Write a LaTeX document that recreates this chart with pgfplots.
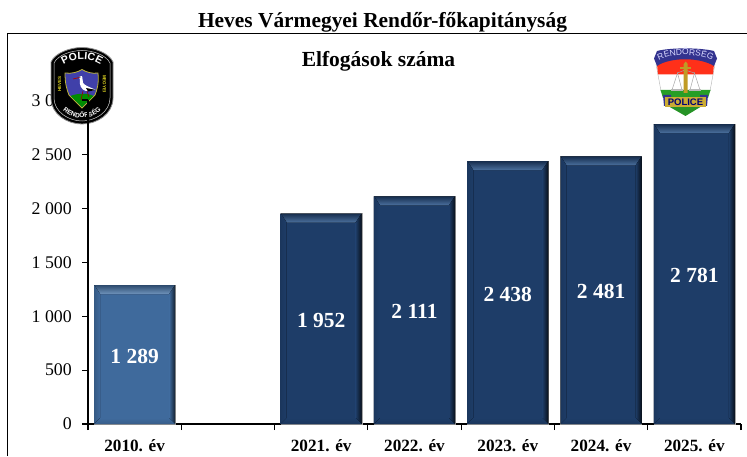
\documentclass[border=0pt]{standalone}
\usepackage{fontspec}
\setmainfont{Liberation Serif}
\newfontfamily\logofont{Liberation Sans}
\usepackage{pgfplots}
\pgfplotsset{compat=1.18}
\usepackage{pgfplotstable}
\usetikzlibrary{decorations.text}
\definecolor{barlight}{HTML}{3F6A9C}
\definecolor{bardark}{HTML}{1E3D68}
\definecolor{bandlight}{HTML}{6F93BC}
\definecolor{banddark}{HTML}{4C719F}
\pgfplotstableread{
x v
0 1289
}\tablelight
\pgfplotstableread{
x v
2 1952
3 2111
4 2438
5 2481
6 2781
}\tabledark
% bevel of one bar: x, value, then five colours
\newcommand\bevelbar[7]{%
  \fill[top color=#3,bottom color=#4] ([xshift=-40.5pt]axis cs:#1,#2) -- ([xshift=40.5pt]axis cs:#1,#2) -- ([xshift=34.5pt,yshift=-9pt]axis cs:#1,#2) -- ([xshift=-34.5pt,yshift=-9pt]axis cs:#1,#2) -- cycle;
  \fill[left color=#5,right color=#6] ([xshift=-40.5pt]axis cs:#1,#2) -- ([xshift=-34.5pt,yshift=-9pt]axis cs:#1,#2) -- ([xshift=-34.5pt,yshift=6pt]axis cs:#1,0) -- ([xshift=-40.5pt]axis cs:#1,0) -- cycle;
  \fill[left color=#6,right color=#7] ([xshift=40.5pt]axis cs:#1,#2) -- ([xshift=34.5pt,yshift=-9pt]axis cs:#1,#2) -- ([xshift=34.5pt,yshift=6pt]axis cs:#1,0) -- ([xshift=40.5pt]axis cs:#1,0) -- cycle;
  \fill[top color=#6,bottom color=#6!88!black] ([xshift=-40.5pt]axis cs:#1,0) -- ([xshift=40.5pt]axis cs:#1,0) -- ([xshift=34.5pt,yshift=6pt]axis cs:#1,0) -- ([xshift=-34.5pt,yshift=6pt]axis cs:#1,0) -- cycle;
}
\newcommand\bevellight[2]{\bevelbar{#1}{#2}{barlight!70!black}{bandlight}{barlight!85!black}{barlight}{barlight!30!black}}
\newcommand\beveldark[2]{\bevelbar{#1}{#2}{bardark!75!black}{banddark}{bardark!90!black}{bardark}{bardark!25!black}}
\pgfplotsset{
  labelled bar/.style={
    ybar,
    visualization depends on={\thisrow{v}*0.1078333 \as \h},
    nodes near coords,
    nodes near coords style={font=\bfseries\fontsize{21.5}{24}\selectfont,text=white,anchor=center,
      yshift={-0.5*\h-1.5}},
  },
}
\begin{document}
\begin{tikzpicture}[x=1pt,y=1pt]
\useasboundingbox (0,0) rectangle (747,456);
\begin{axis}[
  at={(88pt,32pt)},anchor=south west,
  scale only axis,width=653pt,height=323.5pt,
  xmin=-0.5,xmax=6.5,ymin=0,ymax=3000,
  axis x line=bottom,axis y line=left,
  axis line style={-,black,line width=1.2pt},
  xtick={0,1,2,3,4,5,6},
  xticklabels={2010. év,,2021. év,2022. év,2023. év,2024. év,2025. év},
  minor xtick={-0.5,0.5,1.5,2.5,3.5,4.5,5.5,6.5},
  major x tick style={draw=none},
  x tick style={black,line width=1.1pt},
  minor x tick style={black,line width=1.1pt},
  minor tick length=6pt,
  ytick={0,500,1000,1500,2000,2500,3000},
  y tick style={black,line width=1.1pt},
  major tick length=6pt,
  tick align=outside,
  /pgf/number format/assume math mode=true,
  /pgf/number format/1000 sep={\hspace{0.25em}},
  scaled y ticks=false,
  yticklabel style={font=\fontsize{17.8}{20}\selectfont,inner sep=0pt,xshift=-10pt},
  xticklabel style={font=\bfseries\fontsize{17.2}{20}\selectfont,inner sep=0pt,yshift=-9pt},
  bar width=81pt,
  bar shift=0pt,
  clip=false,
]
\addplot[labelled bar,fill=barlight,draw=black!35,line width=0.4pt] table[x=x,y=v]{\tablelight};
\addplot[labelled bar,fill=bardark,draw=black!35,line width=0.4pt] table[x=x,y=v]{\tabledark};
\pgfplotsinvokeforeach{0}{%
  \pgfplotstablegetelem{#1}{x}\of\tablelight\let\xx\pgfplotsretval
  \pgfplotstablegetelem{#1}{v}\of\tablelight\let\vv\pgfplotsretval
  \edef\temp{\noexpand\bevellight{\xx}{\vv}}\temp
}
\pgfplotsinvokeforeach{0,1,2,3,4}{%
  \pgfplotstablegetelem{#1}{x}\of\tabledark\let\xx\pgfplotsretval
  \pgfplotstablegetelem{#1}{v}\of\tabledark\let\vv\pgfplotsretval
  \edef\temp{\noexpand\beveldark{\xx}{\vv}}\temp
}
\end{axis}

\begin{scope}[shift={(0,456)},y=-1pt,x=1pt]
% frame
\draw[black,line width=1pt] (7.5,456) -- (7.5,33.3) -- (747,33.3);
\node[font=\bfseries\fontsize{21.4}{24}\selectfont,anchor=base,inner sep=0pt] at (382.5,28) {Heves Vármegyei Rendőr-főkapitányság};
\node[font=\bfseries\fontsize{21.5}{24}\selectfont,anchor=base,inner sep=0pt] at (378.5,67) {Elfogások száma};

% left logo
\filldraw[fill=black,draw=black!45,line width=0.8pt]
  (51,62) .. controls (55,53) and (70,47.5) .. (82,47.5) .. controls (94,47.5) and (109,53) .. (113,62)
  -- (113,98) .. controls (113,114) and (97,124) .. (82,124) .. controls (67,124) and (51,114) .. (51,98) -- cycle;
\draw[white!80!black,line width=0.5pt]
  (54,63) .. controls (58,55) and (71,50.5) .. (82,50.5) .. controls (93,50.5) and (106,55) .. (110,63)
  -- (110,98) .. controls (110,112) and (95,121) .. (82,121) .. controls (69,121) and (54,112) .. (54,98) -- cycle;
% inner shield
\filldraw[fill=blue!55!black!75!white,draw=yellow!70!black,line width=0.8pt]
  (65,73) .. controls (72,74) and (78,72) .. (82,69.5) .. controls (86,72) and (92,74) .. (98,73)
  .. controls (99,84) and (97,90) .. (95,95) -- (82,108) -- (69,95) .. controls (67,90) and (65,84) .. (65,73) -- cycle;
\fill[green!55!black] (70.5,96) .. controls (78,93) and (88,93) .. (93.5,96) -- (82,107) -- cycle;
% stork
\fill[white] (79,77) .. controls (81,75) and (83,76) .. (82.5,79) .. controls (82,82) and (83,84) .. (87,86)
  -- (96,90) -- (86,91) .. controls (81,90) and (79,84) .. (80,80) -- cycle;
\fill[black] (86,88) -- (96,90) -- (88,91.5) -- cycle;
\draw[red!70!black,line width=0.7pt] (79.5,77.5) -- (73,79);
\draw[red!60!black,line width=0.6pt] (83,91) -- (81,100) (87,91) -- (89,97);
\fill[black] (80,77) circle (0.6);
% POLICE arc text
\path[postaction={decorate},decoration={text along path,text align=center,
   text={|\logofont\bfseries\fontsize{10.5}{10}\selectfont\color{white}|POLICE}}]
  (58,70) .. controls (68,56) and (96,56) .. (106,70);
\path[postaction={decorate},decoration={text along path,text align=center,
   text={|\logofont\bfseries\fontsize{6.5}{6}\selectfont\color{white}|RENDŐRSÉG}}]
  (59,106) .. controls (70,122) and (94,122) .. (105,106);
\node[rotate=90,font=\logofont\bfseries\fontsize{4.5}{5}\selectfont,text=yellow!85!black,inner sep=0pt] at (59.5,84) {HEVES};
\node[rotate=-90,font=\logofont\bfseries\fontsize{4.5}{5}\selectfont,text=yellow!85!black,inner sep=0pt] at (104.5,84) {MEGYEI};
% axis line and tick on top of the logo
\draw[black,line width=1.2pt] (88,100) -- (88,126);
\draw[black,line width=1.1pt] (82,100) -- (88,100);

% right logo
\fill[green!50!black!85!white] (668,106) -- (702,106) -- (685.5,116) -- cycle;
\fill[white] (657,64) -- (714,64) -- (710,91) -- (661,91) -- cycle;
\draw[gray!60,line width=0.4pt] (656,64) -- (661,91) (715,64) -- (710,91);
\fill[red!80!orange!90!white] (656.5,59) .. controls (670,56) and (700,56) .. (714.5,59) -- (713,74.5) -- (658,74.5) -- cycle;
\fill[green!55!black!85!white] (660.5,90) -- (710.5,90) -- (708,98) -- (663,98) -- cycle;
% blue top band
\fill[blue!45!black!80!white] (657,51) .. controls (670,47.5) and (700,47.5) .. (714,51)
  -- (717,58.5) -- (714,66) .. controls (700,57) and (670,57) .. (657,66) -- (654,58.5) -- cycle;
\path[postaction={decorate},decoration={text along path,text align=center,
   text={|\logofont\fontsize{8.5}{9}\selectfont\color{white!85!blue}|RENDŐRSÉG}}]
  (658,61) .. controls (670,53) and (701,53) .. (713,61);
% scales
\draw[gray!70,line width=0.5pt] (672,90) -- (677.5,73) -- (682,90) (690,90) -- (694.5,73) -- (700,90)
   (677.5,73) -- (685,70) -- (694.5,73);
\fill[gray!55] (671,89.5) rectangle (683,91);
\fill[gray!55] (689,89.5) rectangle (701,91);
% sword
\fill[brown!65!yellow!90!black] (683.7,64) -- (685.7,61.5) -- (687.7,64) -- (687.7,93) -- (683.7,93) -- cycle;
\fill[brown!65!yellow!90!black] (680,67.5) rectangle (691,69.5);
% police band
\fill[blue!45!black!80!white] (663,95) -- (671,95) -- (671,106) -- (664,106) -- cycle;
\fill[blue!45!black!80!white] (700,95) -- (708,95) -- (707,106) -- (700,106) -- cycle;
\fill[brown!60!yellow!85!gray] (665,97.5) rectangle (706,107.5);
\node[font=\logofont\bfseries\fontsize{9.5}{9}\selectfont,text=blue!45!black,inner sep=0pt] at (685.5,102.7) {POLICE};
\end{scope}
\end{tikzpicture}
\end{document}
